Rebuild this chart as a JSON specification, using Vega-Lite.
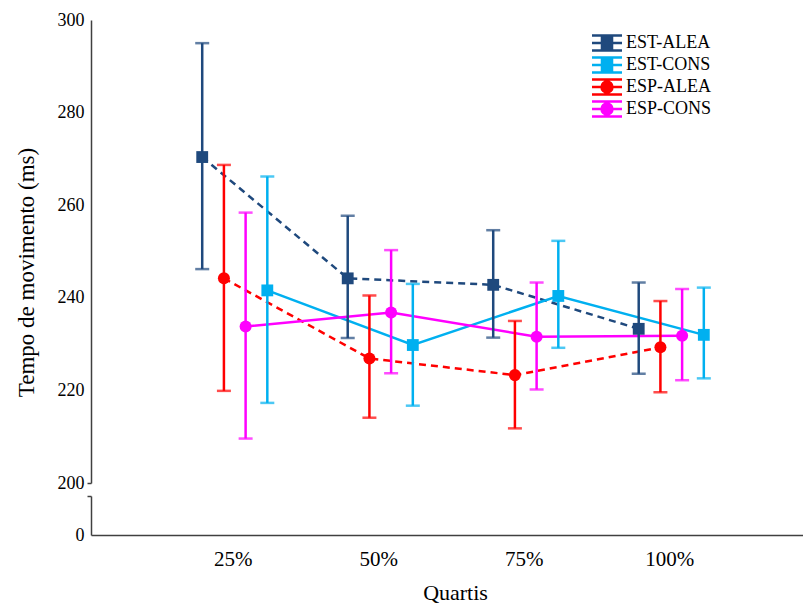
{
  "$schema": "https://vega.github.io/schema/vega-lite/v6.json",
  "padding": {"left": 15, "top": 11, "right": 0, "bottom": 0},
  "background": "white",
  "bounds": "flush",
  "data": {
    "values": [
      {"quartil": "25%", "series": "EST-ALEA", "mean": 270.4, "lower": 246.2, "upper": 295.0},
      {"quartil": "50%", "series": "EST-ALEA", "mean": 244.2, "lower": 231.3, "upper": 257.7},
      {"quartil": "75%", "series": "EST-ALEA", "mean": 242.8, "lower": 231.4, "upper": 254.6},
      {"quartil": "100%", "series": "EST-ALEA", "mean": 233.3, "lower": 223.6, "upper": 243.3},
      {"quartil": "25%", "series": "EST-CONS", "mean": 241.6, "lower": 217.3, "upper": 266.2},
      {"quartil": "50%", "series": "EST-CONS", "mean": 229.8, "lower": 216.7, "upper": 243.0},
      {"quartil": "75%", "series": "EST-CONS", "mean": 240.4, "lower": 229.2, "upper": 252.3},
      {"quartil": "100%", "series": "EST-CONS", "mean": 232.0, "lower": 222.6, "upper": 242.2},
      {"quartil": "25%", "series": "ESP-ALEA", "mean": 244.2, "lower": 219.9, "upper": 268.7},
      {"quartil": "50%", "series": "ESP-ALEA", "mean": 226.9, "lower": 214.1, "upper": 240.5},
      {"quartil": "75%", "series": "ESP-ALEA", "mean": 223.3, "lower": 211.8, "upper": 235.0},
      {"quartil": "100%", "series": "ESP-ALEA", "mean": 229.3, "lower": 219.6, "upper": 239.3},
      {"quartil": "25%", "series": "ESP-CONS", "mean": 233.8, "lower": 209.6, "upper": 258.4},
      {"quartil": "50%", "series": "ESP-CONS", "mean": 236.8, "lower": 223.7, "upper": 250.3},
      {"quartil": "75%", "series": "ESP-CONS", "mean": 231.6, "lower": 220.2, "upper": 243.3},
      {"quartil": "100%", "series": "ESP-CONS", "mean": 231.8, "lower": 222.2, "upper": 241.9}
    ]
  },
  "resolve": {"scale": {"x": "independent", "y": "independent"}, "axis": {"x": "independent", "y": "independent"}},
  "spacing": 13,
  "vconcat": [
    {
      "width": 714,
      "height": 463,
      "encoding": {
        "x": {"field": "quartil", "type": "nominal", "sort": ["25%", "50%", "75%", "100%"],
              "scale": {"type": "band", "paddingInner": 0, "paddingOuter": 0.4536, "align": 0.527}, "axis": null},
        "xOffset": {"field": "series", "type": "nominal", "sort": ["EST-ALEA", "ESP-ALEA", "ESP-CONS", "EST-CONS"],
                    "scale": {"paddingInner": 0, "paddingOuter": 0, "range": [30.8, 117.6]}}
      },
      "layer": [
        {
          "transform": [{"filter": "indexof(datum.series, 'ALEA') >= 0"}],
          "mark": {"type": "line", "strokeWidth": 2.5, "strokeDash": [7, 5]},
          "encoding": {
            "y": {"field": "mean", "type": "quantitative",
                  "scale": {"domain": [200, 300], "nice": false, "zero": false},
                  "axis": {"title": "Tempo de movimento (ms)", "values": [200, 220, 240, 260, 280, 300],
                           "labelFontSize": 18, "labelPadding": 3, "tickSize": 4, "labelFlush": false, "labelOverlap": false,
                           "tickOpacity": {"condition": {"test": "datum.value == 200", "value": 1}, "value": 0},
                           "titleFontSize": 23, "titleX": -65, "titleY": 252, "titleBaseline": "middle", "titleAlign": "center"}},
            "color": {"field": "series", "type": "nominal",
                      "scale": {"domain": ["EST-ALEA", "ESP-ALEA", "ESP-CONS", "EST-CONS"], "range": ["#1F497D", "#FF0000", "#FF00FF", "#00B0F0"]},
                      "legend": null}
          }
        },
        {
          "transform": [{"filter": "indexof(datum.series, 'CONS') >= 0"}],
          "mark": {"type": "line", "strokeWidth": 2.5},
          "encoding": {
            "y": {"field": "mean", "type": "quantitative"},
            "color": {"field": "series", "type": "nominal", "legend": null}
          }
        },
        {
          "mark": {"type": "rule", "strokeWidth": 2.5},
          "encoding": {
            "y": {"field": "lower", "type": "quantitative"},
            "y2": {"field": "upper"},
            "color": {"field": "series", "type": "nominal", "legend": null}
          }
        },
        {
          "mark": {"type": "tick", "thickness": 2.5, "size": 14, "orient": "horizontal"},
          "encoding": {
            "y": {"field": "upper", "type": "quantitative"},
            "color": {"field": "series", "type": "nominal", "legend": null}
          }
        },
        {
          "mark": {"type": "tick", "thickness": 2.5, "size": 14, "orient": "horizontal"},
          "encoding": {
            "y": {"field": "lower", "type": "quantitative"},
            "color": {"field": "series", "type": "nominal", "legend": null}
          }
        },
        {
          "transform": [{"filter": "indexof(datum.series, 'EST') >= 0"}],
          "mark": {"type": "point", "shape": "square", "filled": true, "size": 140, "opacity": 1},
          "encoding": {
            "y": {"field": "mean", "type": "quantitative"},
            "color": {"field": "series", "type": "nominal", "legend": null}
          }
        },
        {
          "transform": [{"filter": "indexof(datum.series, 'ESP') >= 0"}],
          "mark": {"type": "point", "shape": "circle", "filled": true, "size": 145, "opacity": 1},
          "encoding": {
            "y": {"field": "mean", "type": "quantitative"},
            "color": {"field": "series", "type": "nominal", "legend": null}
          }
        },
        {
          "mark": {"type": "point", "filled": true, "opacity": 0, "strokeWidth": 2.5},
          "encoding": {
            "y": {"field": "mean", "type": "quantitative"},
            "fill": {"field": "series", "type": "nominal",
                     "scale": {"domain": ["EST-ALEA", "EST-CONS", "ESP-ALEA", "ESP-CONS"], "range": ["#1F497D", "#00B0F0", "#FF0000", "#FF00FF"]},
                     "legend": {"title": null, "orient": "none", "legendX": 507, "legendY": 14, "padding": 0,
                                "symbolSize": 225, "symbolStrokeWidth": 2.5, "symbolOpacity": 1,
                                "labelFont": "Liberation Serif", "labelFontSize": 18, "labelColor": "#000",
                                "labelOffset": 10, "rowPadding": -5.5,
                                "encode": {"symbols": {"update": {"opacity": {"value": 1}}}}}},
            "stroke": {"field": "series", "type": "nominal",
                       "scale": {"domain": ["EST-ALEA", "EST-CONS", "ESP-ALEA", "ESP-CONS"], "range": ["#1F497D", "#00B0F0", "#FF0000", "#FF00FF"]}},
            "shape": {"field": "series", "type": "nominal",
                      "scale": {"domain": ["EST-ALEA", "EST-CONS", "ESP-ALEA", "ESP-CONS"],
                                "range": [
                                  "M-2,-1H2M-2,1H2M-2,0H2M0,-1V1M-0.67,-0.67H0.67V0.67H-0.67Z",
                                  "M-2,-1H2M-2,1H2M-2,0H2M0,-1V1M-0.67,-0.67H0.67V0.67H-0.67Z",
                                  "M-2,-1H2M-2,1H2M-2,0H2M0,-1V1M-0.73,0A0.73,0.73 0 1,0 0.73,0A0.73,0.73 0 1,0 -0.73,0Z",
                                  "M-2,-1H2M-2,1H2M-2,0H2M0,-1V1M-0.73,0A0.73,0.73 0 1,0 0.73,0A0.73,0.73 0 1,0 -0.73,0Z"
                                ]}}
          }
        }
      ]
    },
    {
      "width": 714,
      "height": 39,
      "mark": {"type": "point", "opacity": 0, "clip": true},
      "encoding": {
        "x": {"field": "quartil", "type": "nominal", "sort": ["25%", "50%", "75%", "100%"],
              "scale": {"type": "band", "paddingInner": 0, "paddingOuter": 0.4536, "align": 0.527},
              "axis": {"title": "Quartis", "labelFontSize": 21, "labelPadding": 30, "labelBaseline": "alphabetic",
                       "labelAngle": 0, "ticks": false, "tickSize": 0, "titleFontSize": 22,
                       "titleX": 364, "titleY": 64, "titleBaseline": "alphabetic", "titleAlign": "center"}},
        "y": {"field": "mean", "type": "quantitative",
              "scale": {"domain": [0, 150], "nice": false, "zero": false},
              "axis": {"title": null, "values": [0, 150], "labelExpr": "datum.value == 0 ? '0' : ''",
                       "labelFontSize": 18, "labelPadding": 3, "tickSize": 4, "labelFlush": false, "labelOverlap": false,
                       "tickOpacity": {"condition": {"test": "datum.value == 150", "value": 1}, "value": 0}}}
      }
    }
  ],
  "config": {
    "view": {"stroke": null},
    "font": "Liberation Serif",
    "axis": {"labelFont": "Liberation Serif", "titleFont": "Liberation Serif", "labelColor": "#000", "titleColor": "#000",
             "titleFontWeight": "normal", "grid": false, "domainColor": "#404040", "domainWidth": 1.5,
             "tickColor": "#404040", "tickWidth": 1.5}
  }
}
